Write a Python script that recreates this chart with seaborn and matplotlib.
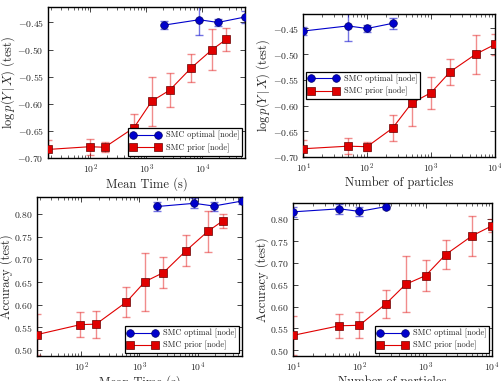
import numpy as np
import pandas as pd
import matplotlib
matplotlib.use("Agg")
import matplotlib.pyplot as plt
import seaborn as sns

sns.set_style("ticks")
plt.rcParams['font.family'] = ['cmr10', 'DejaVu Serif']
plt.rcParams['mathtext.fontset'] = 'cm'
plt.rcParams['axes.formatter.use_mathtext'] = True
plt.rcParams['xtick.direction'] = 'in'
plt.rcParams['ytick.direction'] = 'in'
plt.rcParams['xtick.top'] = True
plt.rcParams['ytick.right'] = True

# mean running time (s) for each setting
time_prior = [17.5, 97, 180, 600, 1250, 2600, 6300, 15000, 27000]
time_opt = [2050, 8800, 19000, 58000]
# number of particles
n_prior = [10, 50, 100, 250, 500, 1000, 2000, 5000, 10000]
n_opt = [10, 50, 100, 250]

# log p(Y|X) on test set
ll_prior = [-0.684, -0.679, -0.680, -0.644, -0.595, -0.575, -0.534, -0.500, -0.481]
ll_prior_err = [0.017, 0.015, 0.009, 0.025, 0.045, 0.031, 0.025, 0.038, 0.021]
ll_opt = [-0.455, -0.445, -0.450, -0.440]
ll_opt_err = [0.007, 0.029, 0.006, 0.011]

# accuracy on test set
acc_prior = [0.534, 0.556, 0.557, 0.606, 0.651, 0.671, 0.719, 0.762, 0.785]
acc_prior_err = [0.045, 0.027, 0.030, 0.033, 0.064, 0.035, 0.034, 0.046, 0.015]
acc_opt = [0.817, 0.824, 0.818, 0.829]
acc_opt_err = [0.011, 0.011, 0.010, 0.006]

blue = "#0000cc"
red = "#e00000"

fig = plt.figure(figsize=(5.01, 3.81), dpi=100)
ax_tl = fig.add_axes([0.096, 0.585, 0.393, 0.396])
ax_tr = fig.add_axes([0.605, 0.588, 0.383, 0.375])
ax_bl = fig.add_axes([0.074, 0.066, 0.409, 0.417])
ax_br = fig.add_axes([0.585, 0.066, 0.397, 0.402])


def draw(ax, xo, yo, eo, xp, yp, ep):
    ax.set_xscale('log')
    ax.errorbar(xo, yo, yerr=eo, fmt='none', ecolor=blue, alpha=0.55,
                elinewidth=1.0, capsize=3, capthick=1.0, zorder=2)
    ax.errorbar(xp, yp, yerr=ep, fmt='none', ecolor=red, alpha=0.45,
                elinewidth=1.0, capsize=3, capthick=1.0, zorder=2)
    sns.lineplot(x=xo, y=yo, ax=ax, color=blue, marker='o', markersize=5.5,
                 markeredgecolor='#000066', markeredgewidth=0.5, lw=0.8,
                 label='SMC optimal [node]', zorder=3)
    sns.lineplot(x=xp, y=yp, ax=ax, color=red, marker='s', markersize=5.5,
                 markeredgecolor='#660000', markeredgewidth=0.5, lw=0.8,
                 label='SMC prior [node]', zorder=3)
    for s in ax.spines.values():
        s.set_linewidth(1.0)
        s.set_color('black')
    ax.tick_params(which='major', labelsize=7, length=3.5, width=0.6, pad=3)
    ax.tick_params(which='minor', length=2, width=0.5)


draw(ax_tl, time_opt, ll_opt, ll_opt_err, time_prior, ll_prior, ll_prior_err)
draw(ax_tr, n_opt, ll_opt, ll_opt_err, n_prior, ll_prior, ll_prior_err)
draw(ax_bl, time_opt, acc_opt, acc_opt_err, time_prior, acc_prior, acc_prior_err)
draw(ax_br, n_opt, acc_opt, acc_opt_err, n_prior, acc_prior, acc_prior_err)

for ax in (ax_tl, ax_bl):
    ax.set_xlim(time_prior[0], time_opt[-1])
    ax.set_xlabel('Mean Time (s)', fontsize=9, labelpad=1)
for ax in (ax_tr, ax_br):
    ax.set_xlim(n_prior[0], n_prior[-1])
    ax.set_xlabel('Number of particles', fontsize=9, labelpad=1)

for ax in (ax_tl, ax_tr):
    ax.set_ylim(-0.70, -0.422)
    ax.set_yticks([-0.70, -0.65, -0.60, -0.55, -0.50, -0.45])
    ax.set_ylabel(r'$\log p(Y\,|\,X)$ (test)', fontsize=9, labelpad=0.5)
for ax in (ax_bl, ax_br):
    ax.set_ylim(0.487, 0.838)
    ax.set_yticks([0.50, 0.55, 0.60, 0.65, 0.70, 0.75, 0.80])
    ax.set_ylabel('Accuracy (test)', fontsize=9, labelpad=1)

leg_kw = dict(fontsize=6, frameon=True, fancybox=False, edgecolor='black',
              framealpha=1, borderaxespad=0.3, handlelength=3.6, numpoints=2,
              borderpad=0.35, labelspacing=0.35, handletextpad=0.6)
locs = {ax_tl: 'lower right', ax_tr: 'center left',
        ax_bl: 'lower right', ax_br: 'lower right'}
for ax, loc in locs.items():
    leg = ax.legend(loc=loc, **leg_kw)
    leg.get_frame().set_linewidth(0.9)

fig.savefig('out.png', dpi=100)
